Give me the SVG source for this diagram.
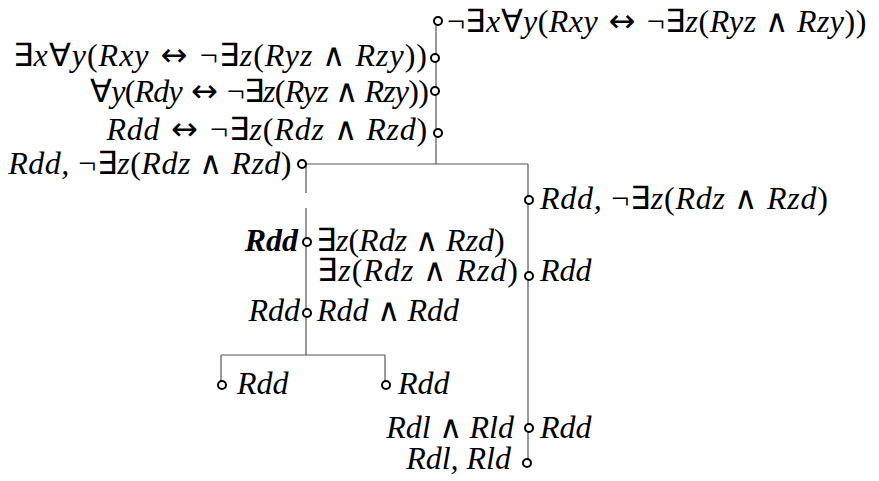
<svg xmlns="http://www.w3.org/2000/svg" width="879" height="481" viewBox="0 0 879 481">
<style>
text{font-size:32px;font-style:italic;fill:#000}
.s{font-style:normal}
.e{text-anchor:end}
.ln{stroke:#555;stroke-width:1.2;fill:none}
.c{fill:#fff;stroke:#000;stroke-width:2}
</style>
<rect width="879" height="481" fill="#fff"/>
<g id="connectors">
<path class="ln" d="M436 24V164M305 164H528M306 164V193M306 208V355M528 164V460M221 355H385M221 355V381M385 355V381"/>
</g>
<g id="n1"><circle class="c" cx="438" cy="21" r="4"/>
<text font-family="Liberation Serif" letter-spacing="0.45" x="447" y="32"><tspan class="s">¬∃</tspan>x<tspan class="s">∀</tspan>y<tspan class="s">(</tspan>Rxy<tspan class="s" font-family="DejaVu Sans"> ↔ </tspan><tspan class="s">¬∃</tspan>z<tspan class="s">(</tspan>Ryz<tspan class="s"> ∧ </tspan>Rzy<tspan class="s">))</tspan></text></g>
<g id="n2"><circle class="c" cx="435" cy="58" r="4"/>
<text class="e" font-family="Liberation Serif" letter-spacing="1" x="428" y="66"><tspan class="s">∃</tspan>x<tspan class="s">∀</tspan>y<tspan class="s">(</tspan>Rxy<tspan class="s" font-family="DejaVu Sans"> ↔ </tspan><tspan class="s">¬∃</tspan>z<tspan class="s">(</tspan>Ryz<tspan class="s"> ∧ </tspan>Rzy<tspan class="s">))</tspan></text></g>
<g id="n3"><circle class="c" cx="435" cy="91" r="4"/>
<text class="e" font-family="Liberation Serif" letter-spacing="-0.8" x="428" y="102"><tspan class="s">∀</tspan>y<tspan class="s">(</tspan>Rdy<tspan class="s" font-family="DejaVu Sans"> ↔ </tspan><tspan class="s">¬∃</tspan>z<tspan class="s">(</tspan>Ryz<tspan class="s"> ∧ </tspan>Rzy<tspan class="s">))</tspan></text></g>
<g id="n4"><circle class="c" cx="438" cy="133" r="4"/>
<text class="e" font-family="Liberation Serif" letter-spacing="0.8" x="428" y="140">Rdd<tspan class="s" font-family="DejaVu Sans"> ↔ </tspan><tspan class="s">¬∃</tspan>z<tspan class="s">(</tspan>Rdz<tspan class="s"> ∧ </tspan>Rzd<tspan class="s">)</tspan></text></g>
<g id="n5"><circle class="c" cx="302" cy="164" r="4"/>
<text class="e" font-family="Liberation Serif" letter-spacing="0.5" x="292" y="174">Rdd,<tspan class="s"> ¬∃</tspan>z<tspan class="s">(</tspan>Rdz<tspan class="s"> ∧ </tspan>Rzd<tspan class="s">)</tspan></text></g>
<g id="n6"><circle class="c" cx="529" cy="200" r="4"/>
<text font-family="Liberation Serif" letter-spacing="0.75" x="540" y="209">Rdd,<tspan class="s"> ¬∃</tspan>z<tspan class="s">(</tspan>Rdz<tspan class="s"> ∧ </tspan>Rzd<tspan class="s">)</tspan></text></g>
<g id="n7"><circle class="c" cx="307" cy="242" r="4"/>
<text class="e" font-family="Liberation Serif" font-weight="bold" x="298" y="251">Rdd</text>
<text font-family="Liberation Serif" x="316" y="251"><tspan class="s">∃</tspan>z<tspan class="s">(</tspan>Rdz<tspan class="s"> ∧ </tspan>Rzd<tspan class="s">)</tspan></text></g>
<g id="n8"><circle class="c" cx="529" cy="276" r="4"/>
<text class="e" font-family="Liberation Serif" letter-spacing="1" x="519" y="281"><tspan class="s">∃</tspan>z<tspan class="s">(</tspan>Rdz<tspan class="s"> ∧ </tspan>Rzd<tspan class="s">)</tspan></text>
<text font-family="Liberation Serif" x="540" y="281">Rdd</text></g>
<g id="n9"><circle class="c" cx="307" cy="313" r="4"/>
<text class="e" font-family="Liberation Serif" x="300" y="321">Rdd</text>
<text font-family="Liberation Serif" x="317" y="321">Rdd<tspan class="s"> ∧ </tspan>Rdd</text></g>
<g id="n10"><circle class="c" cx="222" cy="385" r="4"/>
<text font-family="Liberation Serif" x="237" y="394">Rdd</text></g>
<g id="n11"><circle class="c" cx="386" cy="385" r="4"/>
<text font-family="Liberation Serif" x="398" y="394">Rdd</text></g>
<g id="n12"><circle class="c" cx="529" cy="428" r="4"/>
<text class="e" font-family="Liberation Serif" x="514" y="438">Rdl<tspan class="s"> ∧ </tspan>Rld</text>
<text font-family="Liberation Serif" x="540" y="438">Rdd</text></g>
<g id="n13"><circle class="c" cx="527" cy="463" r="4"/>
<text class="e" font-family="Liberation Serif" x="511" y="469">Rdl, Rld</text></g>
</svg>
